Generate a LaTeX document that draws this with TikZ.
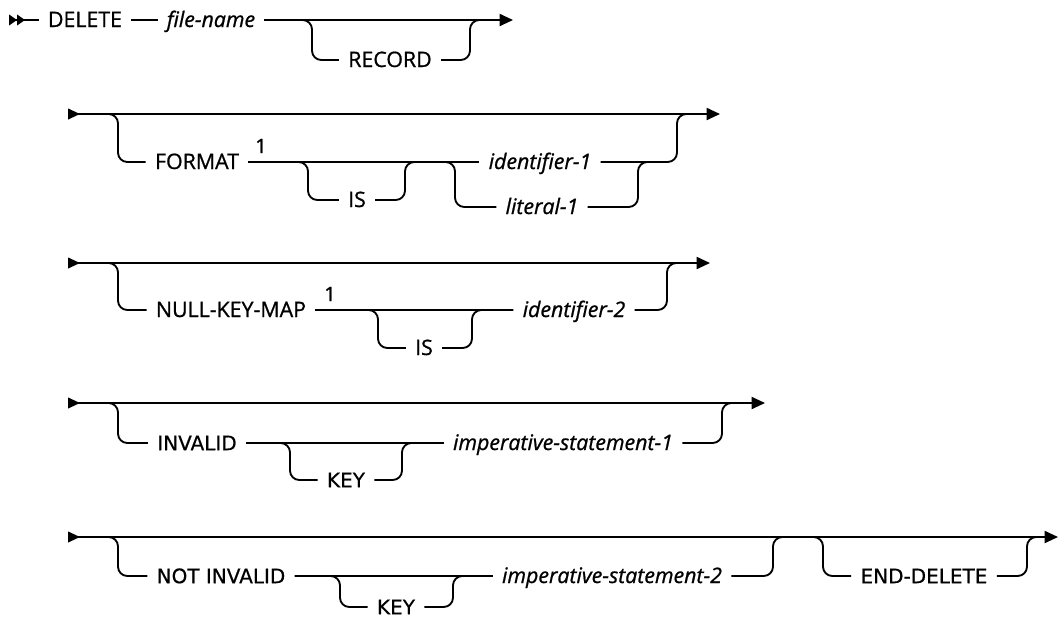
\documentclass[tikz,border=0pt]{standalone}
\usepackage{fontspec}
\setmainfont{Open Sans}[FakeBold=0.9]
\newfontfamily\vfont{DejaVu Sans}[FakeBold=0.5]
\usetikzlibrary{arrows.meta}

\begin{document}
\begin{tikzpicture}[x=0.75pt,y=-0.75pt,
  rail/.style={line width=1.4pt,rounded corners=7pt},
  tok/.style={inner xsep=7pt,inner ysep=0pt,outer sep=0pt,text height=10.5pt,text depth=0pt,font=\fontsize{16}{19}\selectfont},
  var/.style={tok,font=\fontsize{16}{19}\selectfont\itshape},
  vtok/.style={tok,text height=10.8pt,font=\fontsize{15}{18}\selectfont\vfont},
  fn/.style={inner sep=0pt,font=\fontsize{15}{18}\selectfont},
  row/.style={arrows={{Triangle[reversed,length=9pt,width=8pt]}-{Triangle[length=10pt,width=9pt]}}},
  dbl/.style={arrows={{Triangle[reversed,length=6pt,width=8pt] Triangle[reversed,length=6pt,width=8pt]}-}},
  fin/.style={arrows={-{Triangle[length=10pt,width=9pt]}}}]
\useasboundingbox (0,0) rectangle (1058,619);

\node[tok] (del) at (85,20) {DELETE};
\node[var] (fname) at (211,20) {file-name};
\node[tok] (rec) at (390,60) {RECORD};
\coordinate (s1) at (9,20);
\coordinate (r1a) at (312,20);
\coordinate (r1b) at (470,20);
\coordinate (r1c) at (485,20);
\coordinate (e1) at (513,20);
\draw[rail,dbl] (s1) -- (del.west);
\draw[rail] (del.east) -- (fname.west);
\draw[rail,fin] (fname.east) -- (e1);
\draw[rail] (fname.east) -- (r1a) |- (rec.west);
\draw[rail] (rec.east) -| (r1b) -- (r1c);

\node[tok] (fmt) at (197,162) {FORMAT};
\node[fn] (fn1) at (261,146) {1};
\node[tok] (is1) at (357,200) {IS};
\node[var] (id1) at (540,162) {identifier-1};
\node[var] (lit1) at (542,207) {literal-1};
\coordinate (s2) at (68,114);
\coordinate (e2) at (720,114);
\coordinate (b2) at (118,114);
\coordinate (c2a) at (308,162);
\coordinate (c2b) at (405,162);
\coordinate (c2c) at (455,162);
\coordinate (c2d) at (638,162);
\coordinate (c2f) at (655,162);
\coordinate (c2e) at (677,162);
\coordinate (j2) at (692,114);
\draw[rail,row] (s2) -- (e2);
\draw[rail] (s2) -- (b2) |- (fmt.west);
\draw[rail] (fmt.east) -- (id1.west);
\draw[rail] (fmt.east) -- (c2a) |- (is1.west);
\draw[rail] (is1.east) -| (c2b) -- (c2c);
\draw[rail] (fmt.east) -- (c2c) |- (lit1.west);
\draw[rail] (lit1.east) -| (c2d) -- (c2f);
\draw[rail] (id1.east) -- (c2e) |- (j2);

\node[tok] (nkm) at (231,310) {NULL-KEY-MAP};
\node[fn] (fn2) at (330,294) {1};
\node[tok] (is2) at (424,348) {IS};
\node[var] (id2) at (574,310) {identifier-2};
\coordinate (s3) at (68,263);
\coordinate (e3) at (710,263);
\coordinate (b3) at (118,263);
\coordinate (c3a) at (378,310);
\coordinate (c3b) at (472,310);
\coordinate (c3c) at (667,310);
\coordinate (j3) at (682,263);
\draw[rail,row] (s3) -- (e3);
\draw[rail] (s3) -- (b3) |- (nkm.west);
\draw[rail] (nkm.east) -- (id2.west);
\draw[rail] (nkm.east) -- (c3a) |- (is2.west);
\draw[rail] (is2.east) -| (c3b) -- (id2.west);
\draw[rail] (id2.east) -- (c3c) |- (j3);

\node[vtok] (inv) at (197,443) {INVALID};
\node[vtok] (key1) at (346,480) {KEY};
\node[var] (imp1) at (563,443) {imperative-statement-1};
\coordinate (s4) at (68,403);
\coordinate (e4) at (765,403);
\coordinate (b4) at (118,403);
\coordinate (c4a) at (290,443);
\coordinate (c4b) at (402,443);
\coordinate (c4c) at (722,443);
\coordinate (j4) at (737,403);
\draw[rail,row] (s4) -- (e4);
\draw[rail] (s4) -- (b4) |- (inv.west);
\draw[rail] (inv.east) -- (imp1.west);
\draw[rail] (inv.east) -- (c4a) |- (key1.west);
\draw[rail] (key1.east) -| (c4b) -- (imp1.west);
\draw[rail] (imp1.east) -- (c4c) |- (j4);

\node[vtok] (ninv) at (221,576) {NOT INVALID};
\node[vtok] (key2) at (396,607) {KEY};
\node[var] (imp2) at (612,576) {imperative-statement-2};
\node[vtok] (enddel) at (924,576) {END-DELETE};
\coordinate (s5) at (68,537);
\coordinate (e5) at (1058,537);
\coordinate (b5) at (118,537);
\coordinate (c5a) at (340,576);
\coordinate (c5b) at (453,576);
\coordinate (c5c) at (773,576);
\coordinate (j5) at (788,537);
\coordinate (c5d) at (823,537);
\coordinate (c5e) at (1027,537);
\coordinate (j5b) at (1042,537);
\draw[rail,row] (s5) -- (e5);
\draw[rail] (s5) -- (b5) |- (ninv.west);
\draw[rail] (ninv.east) -- (imp2.west);
\draw[rail] (ninv.east) -- (c5a) |- (key2.west);
\draw[rail] (key2.east) -| (c5b) -- (imp2.west);
\draw[rail] (imp2.east) -- (c5c) |- (j5);
\draw[rail] (j5) -- (c5d) |- (enddel.west);
\draw[rail] (enddel.east) -| (c5e) -- (j5b);
\end{tikzpicture}
\end{document}
